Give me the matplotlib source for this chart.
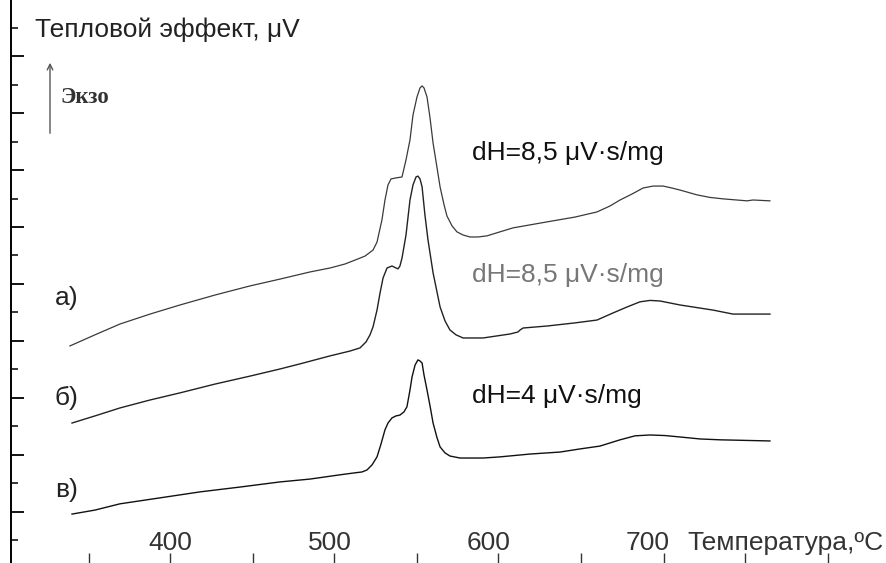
import numpy as np
import matplotlib
matplotlib.use('Agg')
import matplotlib.pyplot as plt
from matplotlib.transforms import blended_transform_factory

plt.rcParams['font.family'] = ['Liberation Sans', 'DejaVu Sans']

# DSC curves (temperature in deg C, heat effect in arbitrary uV units)
temp_a = [337.0, 352.7, 368.4, 387.3, 406.1, 428.1, 450.1, 468.9, 487.7, 500.3, 509.7,
          517.9, 522.3, 527.3, 529.8, 532.9, 534.8, 536.7, 538.6, 541.1, 545.5, 548.0,
          550.5, 552.4, 554.9, 556.8, 558.1, 559.3, 561.2, 563.1, 565.0, 567.5, 569.4,
          571.9, 573.7, 576.9, 580.0, 583.8, 588.2, 593.2, 598.9, 607.0, 615.2, 636.5,
          654.1, 667.9, 676.1, 682.4, 689.9, 696.8, 703.1, 709.4, 715.0, 720.0, 730.7,
          738.9, 747.0, 762.1, 765.9, 776.5]
heat_a = [7.82, 8.21, 8.59, 8.94, 9.26, 9.61, 9.93, 10.17, 10.42, 10.56, 10.70,
          10.88, 10.98, 11.19, 11.47, 12.25, 12.95, 13.48, 13.69, 13.72, 13.76, 14.36,
          15.06, 15.94, 16.57, 16.89, 16.96, 16.89, 16.57, 15.83, 14.95, 14.08, 13.41,
          12.78, 12.39, 12.04, 11.83, 11.72, 11.65, 11.65, 11.69, 11.83, 11.97, 12.18,
          12.35, 12.53, 12.74, 12.95, 13.16, 13.37, 13.44, 13.44, 13.37, 13.30, 13.13,
          13.04, 12.99, 12.92, 12.95, 12.92]

temp_b = [338.3, 352.7, 368.4, 387.3, 406.1, 428.1, 450.1, 468.9, 481.5, 500.3, 512.8,
          519.1, 522.9, 525.4, 527.3, 529.8, 531.7, 533.6, 536.1, 539.2, 541.7, 543.0,
          544.2, 545.5, 548.0, 550.5, 552.4, 554.3, 555.5, 556.8, 558.1, 559.9, 561.8,
          565.0, 569.4, 572.5, 575.6, 579.4, 583.8, 596.4, 613.3, 618.3, 619.6, 621.5,
          636.5, 654.1, 667.9, 678.0, 686.8, 694.9, 701.2, 707.5, 720.0, 740.8, 753.3,
          776.5]
heat_b = [5.11, 5.36, 5.64, 5.92, 6.17, 6.48, 6.76, 7.01, 7.19, 7.47, 7.64,
          7.75, 7.96, 8.21, 8.49, 9.08, 9.68, 10.21, 10.56, 10.63, 10.56, 10.53,
          10.63, 10.91, 11.72, 12.95, 13.48, 13.76, 13.79, 13.69, 13.41, 12.42, 11.55,
          10.39, 9.19, 8.70, 8.38, 8.21, 8.10, 8.10, 8.24, 8.31, 8.38, 8.45,
          8.52, 8.63, 8.73, 8.98, 9.19, 9.37, 9.42, 9.40, 9.26, 9.08, 8.94,
          8.94]

temp_c = [338.3, 352.7, 368.4, 393.6, 418.7, 443.8, 468.9, 487.7, 506.6, 516.0, 520.4,
          523.5, 526.7, 529.8, 532.3, 534.8, 536.7, 539.2, 541.7, 544.2, 546.7, 548.6,
          550.5, 551.8, 553.7, 555.5, 556.8, 558.1, 559.3, 561.2, 563.1, 565.0, 567.5,
          569.4, 572.5, 575.6, 581.9, 596.4, 607.0, 625.9, 644.7, 657.3, 669.8, 676.1,
          682.4, 691.8, 701.2, 710.6, 720.0, 732.6, 745.2, 776.5]
heat_c = [1.91, 2.05, 2.27, 2.48, 2.69, 2.86, 3.04, 3.14, 3.29, 3.36, 3.39,
          3.46, 3.64, 3.92, 4.37, 4.87, 5.11, 5.29, 5.36, 5.39, 5.50, 5.68,
          6.27, 6.73, 7.15, 7.33, 7.29, 7.22, 6.80, 6.27, 5.71, 5.11, 4.59,
          4.27, 4.06, 3.95, 3.88, 3.88, 3.92, 4.02, 4.09, 4.20, 4.30, 4.41,
          4.52, 4.66, 4.69, 4.67, 4.62, 4.55, 4.52, 4.48]

curve_labels = ['а)', 'б)', 'в)']
dh_labels = ['dH=8,5 μV·s/mg', 'dH=8,5 μV·s/mg', 'dH=4 μV·s/mg']
temp_ticks = [400, 500, 600, 700]
bottom_ticks = [349, 400, 452, 503, 555, 606, 658, 710, 761, 813]

W, H = 887, 563
fig = plt.figure(figsize=(W / 100, H / 100), dpi=100)
ax = fig.add_axes([11 / W, 0, 876 / W, 1])


def fpos(x, y):
    # pixel position in the picture -> figure fraction
    return x / W, 1 - y / H


ax.plot(temp_a, heat_a, color='#3a3a3a', lw=0.9)
ax.plot(temp_b, heat_b, color='#222222', lw=1.0)
ax.plot(temp_c, heat_c, color='#111111', lw=1.0)

ax.set_xlim(300, 850)
ax.set_ylim(0.19, 19.98)

# only the left spine, ticks pointing inwards
for side in ['top', 'right', 'bottom']:
    ax.spines[side].set_visible(False)
ax.spines['left'].set_linewidth(1.4)
ax.set_yticks(np.arange(2, 19, 2))
ax.set_yticks(np.arange(1, 20, 2), minor=True)
ax.tick_params(axis='y', which='major', direction='in', length=9, width=1.3, labelleft=False)
ax.tick_params(axis='y', which='minor', direction='in', length=5, width=1.1)
ax.set_xticks(bottom_ticks)
ax.tick_params(axis='x', direction='in', length=7, width=1.0, color='#333333', labelbottom=False)

# temperature labels sit above the bottom ticks
lab_trans = blended_transform_factory(ax.transData, fig.transFigure)
for t in temp_ticks:
    ax.text(t, 1 - 550 / H, str(t), transform=lab_trans, ha='center', va='baseline',
            fontsize=19, color='#333333')
fig.text(*fpos(687, 550), 'Температура,ºC', ha='left', va='baseline', fontsize=19, color='#333333')

fig.text(*fpos(35, 37), 'Тепловой эффект, μV', ha='left', va='baseline', fontsize=19, color='#222222')
ax.annotate('', xy=fpos(50, 60), xytext=fpos(50, 136), xycoords='figure fraction',
            textcoords='figure fraction',
            arrowprops=dict(arrowstyle='->', color='#555555', lw=1.0))
fig.text(*fpos(60, 103), 'Экзо', ha='left', va='baseline', fontsize=16.5, fontweight='bold',
         family=['Liberation Serif', 'DejaVu Serif'], color='#333333')

for lab, yb in zip(curve_labels, [305, 405, 497]):
    fig.text(*fpos(55, yb), lab, ha='left', va='baseline', fontsize=19, color='#222222')

for lab, yb, col in zip(dh_labels, [160, 282, 403], ['#111111', '#777777', '#111111']):
    fig.text(*fpos(472, yb), lab, ha='left', va='baseline', fontsize=19, color=col)

fig.savefig('out.png', dpi=100)
